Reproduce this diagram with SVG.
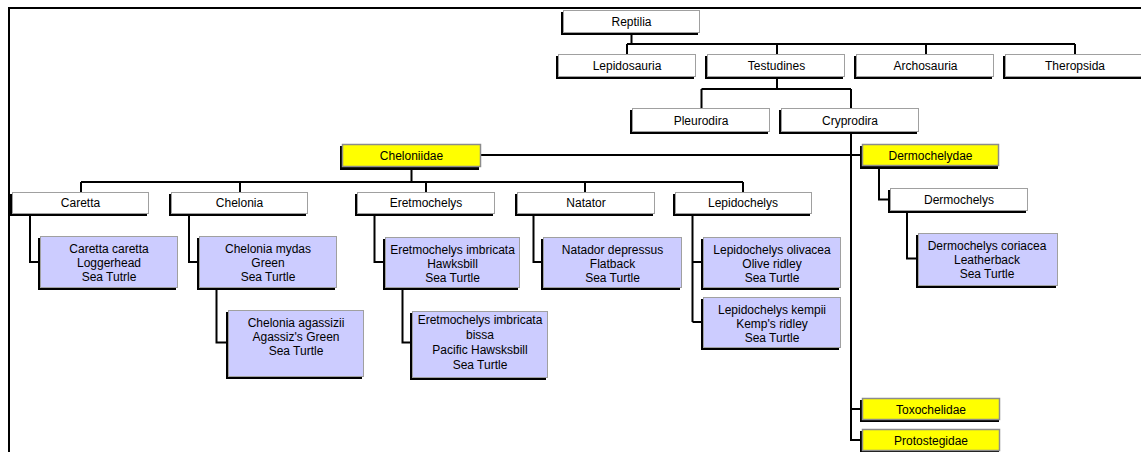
<svg xmlns="http://www.w3.org/2000/svg" width="1141" height="452" viewBox="0 0 1141 452">
<style>
.sh{fill:#000}
.w{fill:#fff;stroke:#a0a0a0;stroke-width:1}
.y{fill:#ffff00;stroke:#8c8c8c;stroke-width:1.5}
.b{fill:#ccccff;stroke:#a0a0a0;stroke-width:1}
text{font-family:"Liberation Sans",Arial,sans-serif;font-size:12px;fill:#000;text-anchor:middle}
.c{fill:none;stroke:#000;stroke-width:2}
</style>
<rect width="1141" height="452" fill="#fff"/>
<rect x="9" y="8" width="1200" height="500" fill="none" stroke="#000" stroke-width="2"/>
<g id="connectors" class="c">
<path d="M631.5,33V44M627,44H1075M627,44V54M777,44V54M926,44V54M1075,44V54"/>
<path d="M777,77V89M701.5,89H851M701.5,89V108M851,89V108"/>
<path d="M851,132V441M481,155H862M851,409H862M851,440H862"/>
<path d="M411.5,167V182M81,182H743M81,182V192M240,182V192M426,182V192M585,182V192M743,182V192"/>
<path d="M879,167V199.5H890"/>
<path d="M907,211V258.5H918"/>
<path d="M30,214V262H40"/>
<path d="M189,214V262H199"/>
<path d="M216.5,288V342.5H228"/>
<path d="M374.5,214V262H385"/>
<path d="M402.5,288V342.5H412"/>
<path d="M533.5,214V262H543"/>
<path d="M692.5,214V322M692.5,262H703M692.5,322H703"/>
</g>
<g id="reptilia"><rect class="sh" x="561" y="12" width="137" height="23"/><rect class="w" x="563.5" y="10.5" width="136" height="22"/><text x="631.5" y="26">Reptilia</text></g>
<g id="lepidosauria"><rect class="sh" x="556" y="56" width="138" height="23"/><rect class="w" x="558.5" y="54.5" width="137" height="22"/><text x="627" y="70">Lepidosauria</text></g>
<g id="testudines"><rect class="sh" x="705" y="56" width="138" height="23"/><rect class="w" x="707.5" y="54.5" width="137" height="22"/><text x="776.5" y="70">Testudines</text></g>
<g id="archosauria"><rect class="sh" x="854" y="56" width="138" height="23"/><rect class="w" x="856.5" y="54.5" width="137" height="22"/><text x="925.5" y="70">Archosauria</text></g>
<g id="theropsida"><rect class="sh" x="1003" y="56" width="150" height="23"/><rect class="w" x="1005.5" y="54.5" width="148" height="22"/><text x="1075" y="70">Theropsida</text></g>
<g id="pleurodira"><rect class="sh" x="630" y="110" width="138" height="24"/><rect class="w" x="632.5" y="108.5" width="137" height="23"/><text x="701" y="125">Pleurodira</text></g>
<g id="cryprodira"><rect class="sh" x="779" y="110" width="138" height="24"/><rect class="w" x="781.5" y="108.5" width="137" height="23"/><text x="850" y="125">Cryprodira</text></g>
<g id="cheloniidae"><rect class="sh" x="340" y="146" width="139" height="24"/><rect class="y" x="342.5" y="144.5" width="138" height="22"/><text x="411.5" y="160">Cheloniidae</text></g>
<g id="dermochelydae"><rect class="sh" x="860" y="146" width="138" height="23"/><rect class="y" x="862.5" y="144.5" width="136" height="21"/><text x="930.5" y="160">Dermochelydae</text></g>
<g id="caretta"><rect class="sh" x="10" y="194" width="137" height="22"/><rect class="w" x="12.5" y="192.5" width="136" height="21"/><text x="80.5" y="207">Caretta</text></g>
<g id="chelonia"><rect class="sh" x="169" y="194" width="137" height="22"/><rect class="w" x="171.5" y="192.5" width="136" height="21"/><text x="239.5" y="207">Chelonia</text></g>
<g id="eretmochelys"><rect class="sh" x="355" y="194" width="138" height="22"/><rect class="w" x="357.5" y="192.5" width="137" height="21"/><text x="426" y="207">Eretmochelys</text></g>
<g id="natator"><rect class="sh" x="515" y="194" width="138" height="22"/><rect class="w" x="517.5" y="192.5" width="137" height="21"/><text x="586" y="207">Natator</text></g>
<g id="lepidochelys"><rect class="sh" x="673" y="194" width="137" height="22"/><rect class="w" x="675.5" y="192.5" width="136" height="21"/><text x="743" y="207">Lepidochelys</text></g>
<g id="dermochelys"><rect class="sh" x="888" y="190" width="138" height="23"/><rect class="w" x="890.5" y="188.5" width="137" height="22"/><text x="959" y="204">Dermochelys</text></g>
<g id="caretta-caretta"><rect class="sh" x="38" y="238" width="138" height="52"/><rect class="b" x="40.5" y="236.5" width="137" height="51"/><text x="109" y="252.5">Caretta caretta</text><text x="109" y="266.5">Loggerhead</text><text x="109" y="280.5">Sea Tutrle</text></g>
<g id="chelonia-mydas"><rect class="sh" x="197" y="238" width="138" height="52"/><rect class="b" x="199.5" y="236.5" width="137" height="51"/><text x="268" y="252.5">Chelonia mydas</text><text x="268" y="266.5">Green</text><text x="268" y="280.5">Sea Turtle</text></g>
<g id="chelonia-agassizii"><rect class="sh" x="226" y="312" width="136" height="67"/><rect class="b" x="228.5" y="310.5" width="135" height="66"/><text x="296" y="327">Chelonia agassizii</text><text x="296" y="341">Agassiz's Green</text><text x="296" y="355">Sea Turtle</text></g>
<g id="eretmochelys-imbricata"><rect class="sh" x="383" y="239" width="135" height="51"/><rect class="b" x="385.5" y="237.5" width="134" height="50"/><text x="452.5" y="253.5">Eretmochelys imbricata</text><text x="452.5" y="267.5">Hawksbill</text><text x="452.5" y="281.5">Sea Turtle</text></g>
<g id="eretmochelys-imbricata-bissa"><rect class="sh" x="410" y="313" width="136" height="67"/><rect class="b" x="412.5" y="311.5" width="135" height="66"/><text x="480" y="323.5">Eretmochelys imbricata</text><text x="480" y="338.5">bissa</text><text x="480" y="353.5">Pacific Hawsksbill</text><text x="480" y="368.5">Sea Turtle</text></g>
<g id="natador-depressus"><rect class="sh" x="541" y="239" width="139" height="51"/><rect class="b" x="543.5" y="237.5" width="138" height="50"/><text x="612.5" y="253.5">Natador depressus</text><text x="612.5" y="267.5">Flatback</text><text x="612.5" y="281.5">Sea Turtle</text></g>
<g id="lepidochelys-olivacea"><rect class="sh" x="701" y="239" width="138" height="51"/><rect class="b" x="703.5" y="237.5" width="137" height="50"/><text x="772" y="253.5">Lepidochelys olivacea</text><text x="772" y="267.5">Olive ridley</text><text x="772" y="281.5">Sea Turtle</text></g>
<g id="lepidochelys-kempii"><rect class="sh" x="701" y="299" width="138" height="51"/><rect class="b" x="703.5" y="297.5" width="137" height="50"/><text x="772" y="313.5">Lepidochelys kempii</text><text x="772" y="327.5">Kemp's ridley</text><text x="772" y="341.5">Sea Turtle</text></g>
<g id="dermochelys-coriacea"><rect class="sh" x="916" y="235" width="140" height="53"/><rect class="b" x="918.5" y="233.5" width="139" height="52"/><text x="987" y="249.5">Dermochelys coriacea</text><text x="987" y="263.5">Leatherback</text><text x="987" y="277.5">Sea Turtle</text></g>
<g id="toxochelidae"><rect class="sh" x="860" y="400" width="139" height="22"/><rect class="y" x="862.5" y="398.5" width="137" height="21"/><text x="931" y="413.5">Toxochelidae</text></g>
<g id="protostegidae"><rect class="sh" x="860" y="431" width="139" height="22"/><rect class="y" x="862.5" y="429.5" width="137" height="21"/><text x="931" y="444.5">Protostegidae</text></g>
</svg>
